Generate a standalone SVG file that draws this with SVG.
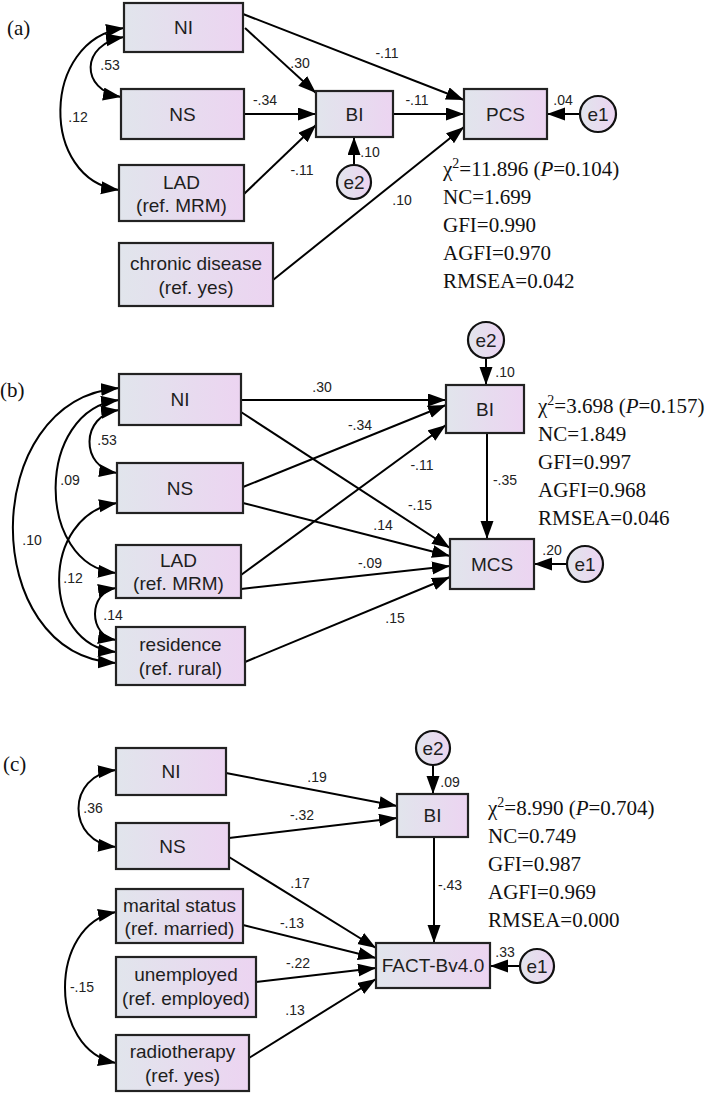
<svg xmlns="http://www.w3.org/2000/svg" width="709" height="1093" viewBox="0 0 709 1093">
<defs>
<linearGradient id="g" x1="0" y1="0" x2="1" y2="0">
<stop offset="0" stop-color="#e1e5ec"/>
<stop offset="1" stop-color="#ecd4f1"/>
</linearGradient>
<marker id="ah" markerUnits="userSpaceOnUse" markerWidth="19" markerHeight="14" refX="18" refY="6.5" orient="auto-start-reverse" viewBox="0 0 19 14">
<path d="M0,0 L18,6.5 L0,13 z" fill="#000"/>
</marker>
<style>
.box{fill:url(#g);stroke:#222;stroke-width:2.2}
.err{fill:url(#g);stroke:#111;stroke-width:2.2}
.lab{font-family:"Liberation Sans",Arial,sans-serif;font-size:19px;fill:#1e1e1e;text-anchor:middle}
.elab{font-family:"Liberation Sans",Arial,sans-serif;font-size:19px;fill:#1e1e1e;text-anchor:middle}
.num{font-family:"Liberation Sans",Arial,sans-serif;font-size:14px;fill:#222;text-anchor:middle}
.fit{font-family:"Liberation Serif","Times New Roman",serif;font-size:21px;fill:#111}
.pan{font-family:"Liberation Serif","Times New Roman",serif;font-size:21px;fill:#111}
.arr{fill:none;stroke:#000;stroke-width:2;marker-end:url(#ah)}
.dbl{fill:none;stroke:#000;stroke-width:2;marker-end:url(#ah);marker-start:url(#ah)}
</style>
</defs>

<text class="pan" x="7" y="35">(a)</text>
<text class="pan" x="0" y="397">(b)</text>
<text class="pan" x="3" y="771">(c)</text>

<g id="connectors-a">
<path class="arr" d="M245,28 L316,93"/>
<path class="arr" d="M243,14 L464,100"/>
<path class="arr" d="M244,114 L316,114"/>
<path class="arr" d="M244,194 L316,125"/>
<path class="arr" d="M393,114 L464,114"/>
<path class="arr" d="M273,280 L464,127"/>
<path class="arr" d="M354,165 L354,137"/>
<path class="arr" d="M580,114 L547,114"/>
<path class="dbl" d="M121,97 C80,90 80,44 124,37"/>
<path class="dbl" d="M124,28 C40,40 40,180 119,190"/>
<text class="num" x="300" y="68">.30</text>
<text class="num" x="387" y="58">-.11</text>
<text class="num" x="265" y="105">-.34</text>
<text class="num" x="302" y="175">-.11</text>
<text class="num" x="417" y="105">-.11</text>
<text class="num" x="402" y="205">.10</text>
<text class="num" x="370" y="157">.10</text>
<text class="num" x="563" y="105">.04</text>
<text class="num" x="110" y="70">.53</text>
<text class="num" x="78" y="122">.12</text>
</g>

<g id="a-NI"><rect class="box" x="124" y="3" width="119" height="49"/><text class="lab" x="183.5" y="34">NI</text></g>
<g id="a-NS"><rect class="box" x="121" y="89" width="123" height="50"/><text class="lab" x="182.5" y="121">NS</text></g>
<g id="a-LAD"><rect class="box" x="119" y="165" width="125" height="56"/><text class="lab" x="181.5" y="189">LAD</text><text class="lab" x="181.5" y="212">(ref. MRM)</text></g>
<g id="a-chronic"><rect class="box" x="119" y="243" width="154" height="63"/><text class="lab" x="196" y="270">chronic disease</text><text class="lab" x="196" y="294">(ref. yes)</text></g>
<g id="a-BI"><rect class="box" x="316" y="91" width="77" height="46"/><text class="lab" x="354.5" y="121">BI</text></g>
<g id="a-PCS"><rect class="box" x="464" y="89" width="83" height="50"/><text class="lab" x="505.5" y="121">PCS</text></g>
<g id="a-e1"><circle class="err" cx="598" cy="114" r="18"/><text class="elab" x="598" y="121">e1</text></g>
<g id="a-e2"><circle class="err" cx="354" cy="182" r="17"/><text class="elab" x="354" y="189">e2</text></g>

<g id="a-fit">
<text class="fit" x="443" y="176">χ<tspan dy="-8" font-size="14">2</tspan><tspan dy="8">=11.896 (</tspan><tspan font-style="italic">P</tspan>=0.104)</text>
<text class="fit" x="443" y="204">NC=1.699</text>
<text class="fit" x="443" y="232">GFI=0.990</text>
<text class="fit" x="443" y="260">AGFI=0.970</text>
<text class="fit" x="443" y="288">RMSEA=0.042</text>
</g>

<g id="connectors-b">
<path class="arr" d="M241,400 L446,400"/>
<path class="arr" d="M241,412 L450,548"/>
<path class="arr" d="M243,487 L446,405"/>
<path class="arr" d="M243,503 L450,556"/>
<path class="arr" d="M241,575 L446,425"/>
<path class="arr" d="M241,589 L450,566"/>
<path class="arr" d="M245,662 L450,577"/>
<path class="arr" d="M486,358 L486,385"/>
<path class="arr" d="M487,433 L487,539"/>
<path class="arr" d="M567,564 L534,564"/>
<path class="dbl" d="M119,410 C80,415 80,468 117,473"/>
<path class="dbl" d="M119,400 C35,410 35,565 116,573"/>
<path class="dbl" d="M119,388 C-22,400 -22,655 116,663"/>
<path class="dbl" d="M117,503 C40,515 40,645 116,652"/>
<path class="dbl" d="M116,588 C88,592 88,636 116,640"/>
<text class="num" x="322" y="392">.30</text>
<text class="num" x="360" y="430">-.34</text>
<text class="num" x="422" y="470">-.11</text>
<text class="num" x="420" y="510">-.15</text>
<text class="num" x="383" y="530">.14</text>
<text class="num" x="370" y="568">-.09</text>
<text class="num" x="395" y="623">.15</text>
<text class="num" x="505" y="377">.10</text>
<text class="num" x="505" y="485">-.35</text>
<text class="num" x="552" y="555">.20</text>
<text class="num" x="107" y="445">.53</text>
<text class="num" x="70" y="485">.09</text>
<text class="num" x="32" y="545">.10</text>
<text class="num" x="73" y="583">.12</text>
<text class="num" x="113" y="620">.14</text>
</g>

<g id="b-NI"><rect class="box" x="119" y="374" width="122" height="51"/><text class="lab" x="180" y="406">NI</text></g>
<g id="b-NS"><rect class="box" x="117" y="463" width="126" height="50"/><text class="lab" x="180" y="495">NS</text></g>
<g id="b-LAD"><rect class="box" x="116" y="545" width="125" height="53"/><text class="lab" x="178.5" y="567">LAD</text><text class="lab" x="178.5" y="590">(ref. MRM)</text></g>
<g id="b-residence"><rect class="box" x="116" y="627" width="129" height="58"/><text class="lab" x="180.5" y="651">residence</text><text class="lab" x="180.5" y="675">(ref. rural)</text></g>
<g id="b-BI"><rect class="box" x="446" y="385" width="78" height="48"/><text class="lab" x="485" y="416">BI</text></g>
<g id="b-MCS"><rect class="box" x="450" y="539" width="84" height="50"/><text class="lab" x="492" y="571">MCS</text></g>
<g id="b-e2"><circle class="err" cx="486" cy="340" r="18"/><text class="elab" x="486" y="347">e2</text></g>
<g id="b-e1"><circle class="err" cx="585" cy="564" r="18"/><text class="elab" x="585" y="571">e1</text></g>

<g id="b-fit">
<text class="fit" x="538" y="413">χ<tspan dy="-8" font-size="14">2</tspan><tspan dy="8">=3.698 (</tspan><tspan font-style="italic">P</tspan>=0.157)</text>
<text class="fit" x="538" y="441">NC=1.849</text>
<text class="fit" x="538" y="469">GFI=0.997</text>
<text class="fit" x="538" y="497">AGFI=0.968</text>
<text class="fit" x="538" y="525">RMSEA=0.046</text>
</g>

<g id="connectors-c">
<path class="arr" d="M226,773 L397,806"/>
<path class="arr" d="M229,838 L397,818"/>
<path class="arr" d="M229,857 L376,948"/>
<path class="arr" d="M243,925 L376,958"/>
<path class="arr" d="M256,982 L376,968"/>
<path class="arr" d="M249,1058 L376,979"/>
<path class="arr" d="M433,765 L433,794"/>
<path class="arr" d="M434,837 L434,943"/>
<path class="arr" d="M520,966 L490,966"/>
<path class="dbl" d="M116,770 C66,775 66,842 116,847"/>
<path class="dbl" d="M116,912 C48,925 48,1050 116,1063"/>
<text class="num" x="317" y="782">.19</text>
<text class="num" x="302" y="820">-.32</text>
<text class="num" x="300" y="888">.17</text>
<text class="num" x="292" y="928">-.13</text>
<text class="num" x="298" y="968">-.22</text>
<text class="num" x="295" y="1015">.13</text>
<text class="num" x="450" y="787">.09</text>
<text class="num" x="450" y="890">-.43</text>
<text class="num" x="505" y="957">.33</text>
<text class="num" x="93" y="813">.36</text>
<text class="num" x="82" y="992">-.15</text>
</g>

<g id="c-NI"><rect class="box" x="116" y="748" width="110" height="47"/><text class="lab" x="171" y="778">NI</text></g>
<g id="c-NS"><rect class="box" x="116" y="823" width="113" height="46"/><text class="lab" x="172.5" y="853">NS</text></g>
<g id="c-marital"><rect class="box" x="116" y="889" width="127" height="54"/><text class="lab" x="179.5" y="912">marital status</text><text class="lab" x="179.5" y="935">(ref. married)</text></g>
<g id="c-unemployed"><rect class="box" x="116" y="957" width="140" height="60"/><text class="lab" x="186" y="981">unemployed</text><text class="lab" x="186" y="1005">(ref. employed)</text></g>
<g id="c-radiotherapy"><rect class="box" x="116" y="1035" width="133" height="56"/><text class="lab" x="182.5" y="1058">radiotherapy</text><text class="lab" x="182.5" y="1082">(ref. yes)</text></g>
<g id="c-BI"><rect class="box" x="397" y="794" width="71" height="43"/><text class="lab" x="432.5" y="822">BI</text></g>
<g id="c-FACT"><rect class="box" x="376" y="943" width="114" height="45"/><text class="lab" x="433" y="972">FACT-Bv4.0</text></g>
<g id="c-e2"><circle class="err" cx="433" cy="748" r="17"/><text class="elab" x="433" y="755">e2</text></g>
<g id="c-e1"><circle class="err" cx="537" cy="966" r="17"/><text class="elab" x="537" y="973">e1</text></g>

<g id="c-fit">
<text class="fit" x="488" y="815">χ<tspan dy="-8" font-size="14">2</tspan><tspan dy="8">=8.990 (</tspan><tspan font-style="italic">P</tspan>=0.704)</text>
<text class="fit" x="488" y="843">NC=0.749</text>
<text class="fit" x="488" y="871">GFI=0.987</text>
<text class="fit" x="488" y="899">AGFI=0.969</text>
<text class="fit" x="488" y="927">RMSEA=0.000</text>
</g>
</svg>
